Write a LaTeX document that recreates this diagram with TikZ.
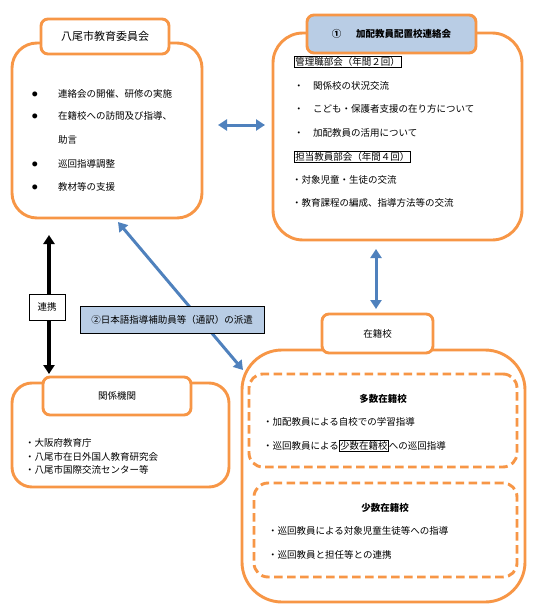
\documentclass[tikz,border=0pt]{standalone}
\usepackage{fontspec}
\setmainfont{Noto Sans CJK JP}
\usetikzlibrary{arrows.meta}
\definecolor{orangec}{HTML}{F79646}
\definecolor{arrowc}{HTML}{4F81BD}
\definecolor{tabc}{HTML}{B9CDE5}
\tikzset{
  frame/.style={draw=orangec, fill=white, line width=2.9pt},
  tab/.style={frame, rounded corners=7pt, inner sep=0pt, font=\fontsize{9.5}{11}\selectfont},
  dbox/.style={draw=orangec, line width=2.9pt, dash pattern=on 8.5pt off 4.5pt, rounded corners=14pt},
  txt/.style={anchor=west, inner sep=0pt, font=\fontsize{9.5}{11}\selectfont},
  ttl/.style={inner sep=0pt, font=\bfseries\fontsize{9.5}{11}\selectfont},
  hdr/.style={txt, draw=black, line width=0.7pt, inner sep=1pt},
  lbl/.style={draw=black, line width=0.8pt, inner sep=0pt, font=\fontsize{9.5}{11}\selectfont},
  dot/.style={txt, font=\fontsize{5.5}{6}\selectfont},
  barr/.style={{Triangle[length=9pt,width=11pt]}-{Triangle[length=9pt,width=11pt]},
               draw=arrowc, line width=3pt},
  karr/.style={barr, draw=black, line width=3.2pt},
}
\setlength{\fboxsep}{0.6pt}
\setlength{\fboxrule}{0.6pt}

\begin{document}
\begin{tikzpicture}[x=1pt, y=-1pt]
\useasboundingbox (0,0) rectangle (540,610);

% ---------------- the board of education ----------------
\node[frame, rounded corners=25pt, minimum width=190pt, minimum height=175pt] (iinkai) at (107,130.5) {};
\node[tab, minimum width=128pt, minimum height=35pt, font=\fontsize{11}{13}\selectfont] (iinkaiT) at (105,36.5) {八尾市教育委員会};
\node[dot] (b1) at (32,94) {●};
\node[txt] (i1) at (58,94) {連絡会の開催、研修の実施};
\node[dot] (b2) at (32,116) {●};
\node[txt] (i2) at (58,116) {在籍校への訪問及び指導、};
\node[txt] (i3) at (58,140) {助言};
\node[dot] (b3) at (32,164) {●};
\node[txt] (i4) at (58,164) {巡回指導調整};
\node[dot] (b4) at (32,187) {●};
\node[txt] (i5) at (58,187) {教材等の支援};

% ---------------- the liaison council ----------------
\node[frame, rounded corners=30pt, minimum width=249pt, minimum height=207pt] (renraku) at (397.5,136.5) {};
\node[tab, fill=tabc, minimum width=169pt, minimum height=38pt, font=\bfseries\fontsize{9.5}{11}\selectfont] (renrakuT) at (391.5,34) {①\hspace{15pt}加配教員配置校連絡会};
\node[hdr] (k1) at (294,62) {管理職部会（年間２回）};
\node[txt] (k2) at (294,86) {・　関係校の状況交流};
\node[txt] (k3) at (294,109) {・　こども・保護者支援の在り方について};
\node[txt] (k4) at (294,133) {・　加配教員の活用について};
\node[hdr] (k5) at (294,157) {担当教員部会（年間４回）};
\node[txt] (k6) at (292,180) {・対象児童・生徒の交流};
\node[txt] (k7) at (292,203) {・教育課程の編成、指導方法等の交流};

% ---------------- the schools ----------------
\node[frame, rounded corners=40pt, minimum width=283pt, minimum height=252pt] (zaiseki) at (383.5,476) {};
\node[tab, minimum width=111pt, minimum height=39pt] (zaisekiT) at (377.5,333.5) {在籍校};
\node[dbox, minimum width=268pt, minimum height=93pt] (tasu) at (383,420.5) {};
\node[ttl] (tasuT) at (383,399) {多数在籍校};
\node[txt] (t1) at (263,422) {・加配教員による自校での学習指導};
\node[txt] (t2) at (263,446) {・巡回教員による\fbox{少数在籍校}への巡回指導};
\node[dbox, minimum width=263pt, minimum height=94pt] (shosu) at (385.5,530) {};
\node[ttl] (shosuT) at (385,508) {少数在籍校};
\node[txt] (s1) at (268,531) {・巡回教員による対象児童生徒等への指導};
\node[txt] (s2) at (268,555) {・巡回教員と担任等との連携};

% ---------------- related bodies ----------------
\node[frame, rounded corners=20pt, minimum width=217pt, minimum height=104pt] (kikan) at (120.5,435) {};
\node[tab, minimum width=148pt, minimum height=38pt] (kikanT) at (117,396) {関係機関};
\node[txt] (r1) at (25,443) {・大阪府教育庁};
\node[txt] (r2) at (25,457) {・八尾市在日外国人教育研究会};
\node[txt] (r3) at (25,470) {・八尾市国際交流センター等};

% ---------------- connectors ----------------
\coordinate (h1) at (218,125);
\coordinate (h2) at (265,125);
\coordinate (v1) at (376,249);
\coordinate (v2) at (376,309);
\coordinate (d1) at (118,222);
\coordinate (d2) at (243,370);
\coordinate (k0) at (49,235);
\coordinate (k9) at (49,374);
\draw[barr] (h1) -- (h2);
\draw[barr] (v1) -- (v2);
\draw[barr] (d1) -- (d2);
\draw[karr] (k0) -- (k9);
\node[lbl, fill=white, minimum width=36pt, minimum height=26pt] (renkei) at (47,307) {連携};
\node[lbl, fill=tabc, minimum width=184pt, minimum height=27pt] (haken) at (172,319.5) {②日本語指導補助員等（通訳）の派遣};
\end{tikzpicture}
\end{document}
